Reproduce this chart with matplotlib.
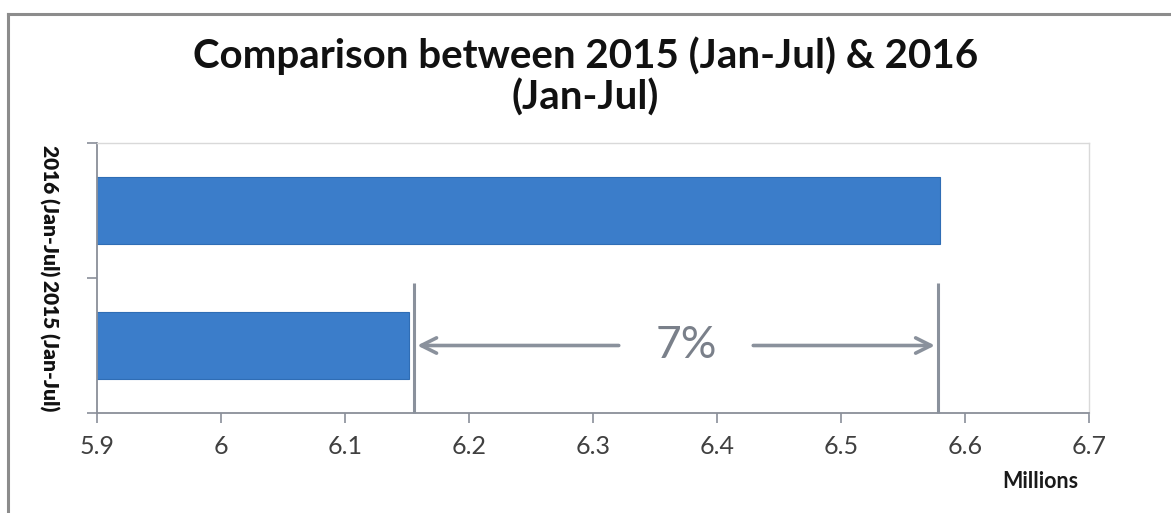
import matplotlib
matplotlib.use("Agg")
import matplotlib.pyplot as plt
from matplotlib.lines import Line2D

# Data
categories = ["2015 (Jan-Jul)", "2016 (Jan-Jul)"]
values = [6.152, 6.580]          # millions
growth_label = "7%"
x_ticks = [5.9, 6.0, 6.1, 6.2, 6.3, 6.4, 6.5, 6.6, 6.7]
x_tick_labels = ["5.9", "6", "6.1", "6.2", "6.3", "6.4", "6.5", "6.6", "6.7"]

plt.rcParams["font.family"] = ["Lato", "DejaVu Sans"]

fig = plt.figure(figsize=(11.71, 5.13), dpi=100)
fig.patch.set_facecolor("white")

# outer chart frame (left and top edges visible)
frame_col = "#8c8c8c"
fig.add_artist(Line2D([8 / 1171, 8 / 1171], [0, 1 - 14 / 513],
                      transform=fig.transFigure, color=frame_col, lw=2.2))
fig.add_artist(Line2D([8 / 1171, 1], [1 - 14 / 513, 1 - 14 / 513],
                      transform=fig.transFigure, color=frame_col, lw=2.2))

ax = fig.add_axes([97 / 1171, 1 - 413 / 513, (1089 - 97) / 1171, (413 - 143) / 513])

bar_col = "#3b7dca"
ypos = list(range(len(categories)))
ax.barh(ypos, values, height=0.5, left=0, color=bar_col,
        edgecolor="#2f6db5", linewidth=0.8, zorder=2)

ax.set_xlim(5.9, 6.7)
ax.set_ylim(-0.5, 1.5)

# axes styling
for side in ["left", "bottom"]:
    ax.spines[side].set_color("#8a8f99")
    ax.spines[side].set_linewidth(1.3)
for side in ["top", "right"]:
    ax.spines[side].set_color("#d9d9d9")
    ax.spines[side].set_linewidth(1.0)

ax.set_xticks(x_ticks)
ax.set_xticklabels(x_tick_labels, fontsize=18, color="#404040")
ax.tick_params(axis="x", direction="out", length=7, width=1.2,
               color="#8a8f99", pad=9)

ax.set_yticks([-0.5, 0.5, 1.5])
ax.set_yticklabels([])
ax.set_yticks(ypos, minor=True)
ax.set_yticklabels(categories, minor=True, rotation=-90, va="center",
                   fontsize=15, fontweight="heavy", color="#111111")
ax.tick_params(axis="y", which="major", direction="out", length=7,
               width=1.2, color="#8a8f99")
ax.tick_params(axis="y", which="minor", length=0, pad=27)

# growth bracket between the two bar ends
ann_col = "#8a919c"
lo, hi = values[0] + 0.004, values[1] - 0.002
for xv in (lo, hi):
    ax.plot([xv, xv], [-0.5, 0.46], color=ann_col, lw=2.2, zorder=3,
            solid_capstyle="butt", clip_on=False)
y_arrow = 0.0
ax.annotate("", xy=(lo, y_arrow), xytext=(6.323, y_arrow),
            arrowprops=dict(arrowstyle="->,head_length=1.1,head_width=0.55",
                            color=ann_col, lw=2.6))
ax.annotate("", xy=(hi, y_arrow), xytext=(6.427, y_arrow),
            arrowprops=dict(arrowstyle="->,head_length=1.1,head_width=0.55",
                            color=ann_col, lw=2.6))
ax.text(6.375, y_arrow, growth_label, ha="center", va="center",
        fontsize=32, color="#7a808a")

# title and axis unit
fig.text(0.5, 1 - 56 / 513, "Comparison between 2015 (Jan-Jul) & 2016",
         ha="center", va="center", fontsize=29, fontweight="bold", color="#111111")
fig.text(0.5, 1 - 98 / 513, "(Jan-Jul)",
         ha="center", va="center", fontsize=29, fontweight="bold", color="#111111")
fig.text(1078 / 1171, 1 - 482 / 513, "Millions", ha="right", va="center",
         fontsize=15.5, fontweight="bold", color="#1a1a1a")

fig.savefig("out.png", dpi=100)
